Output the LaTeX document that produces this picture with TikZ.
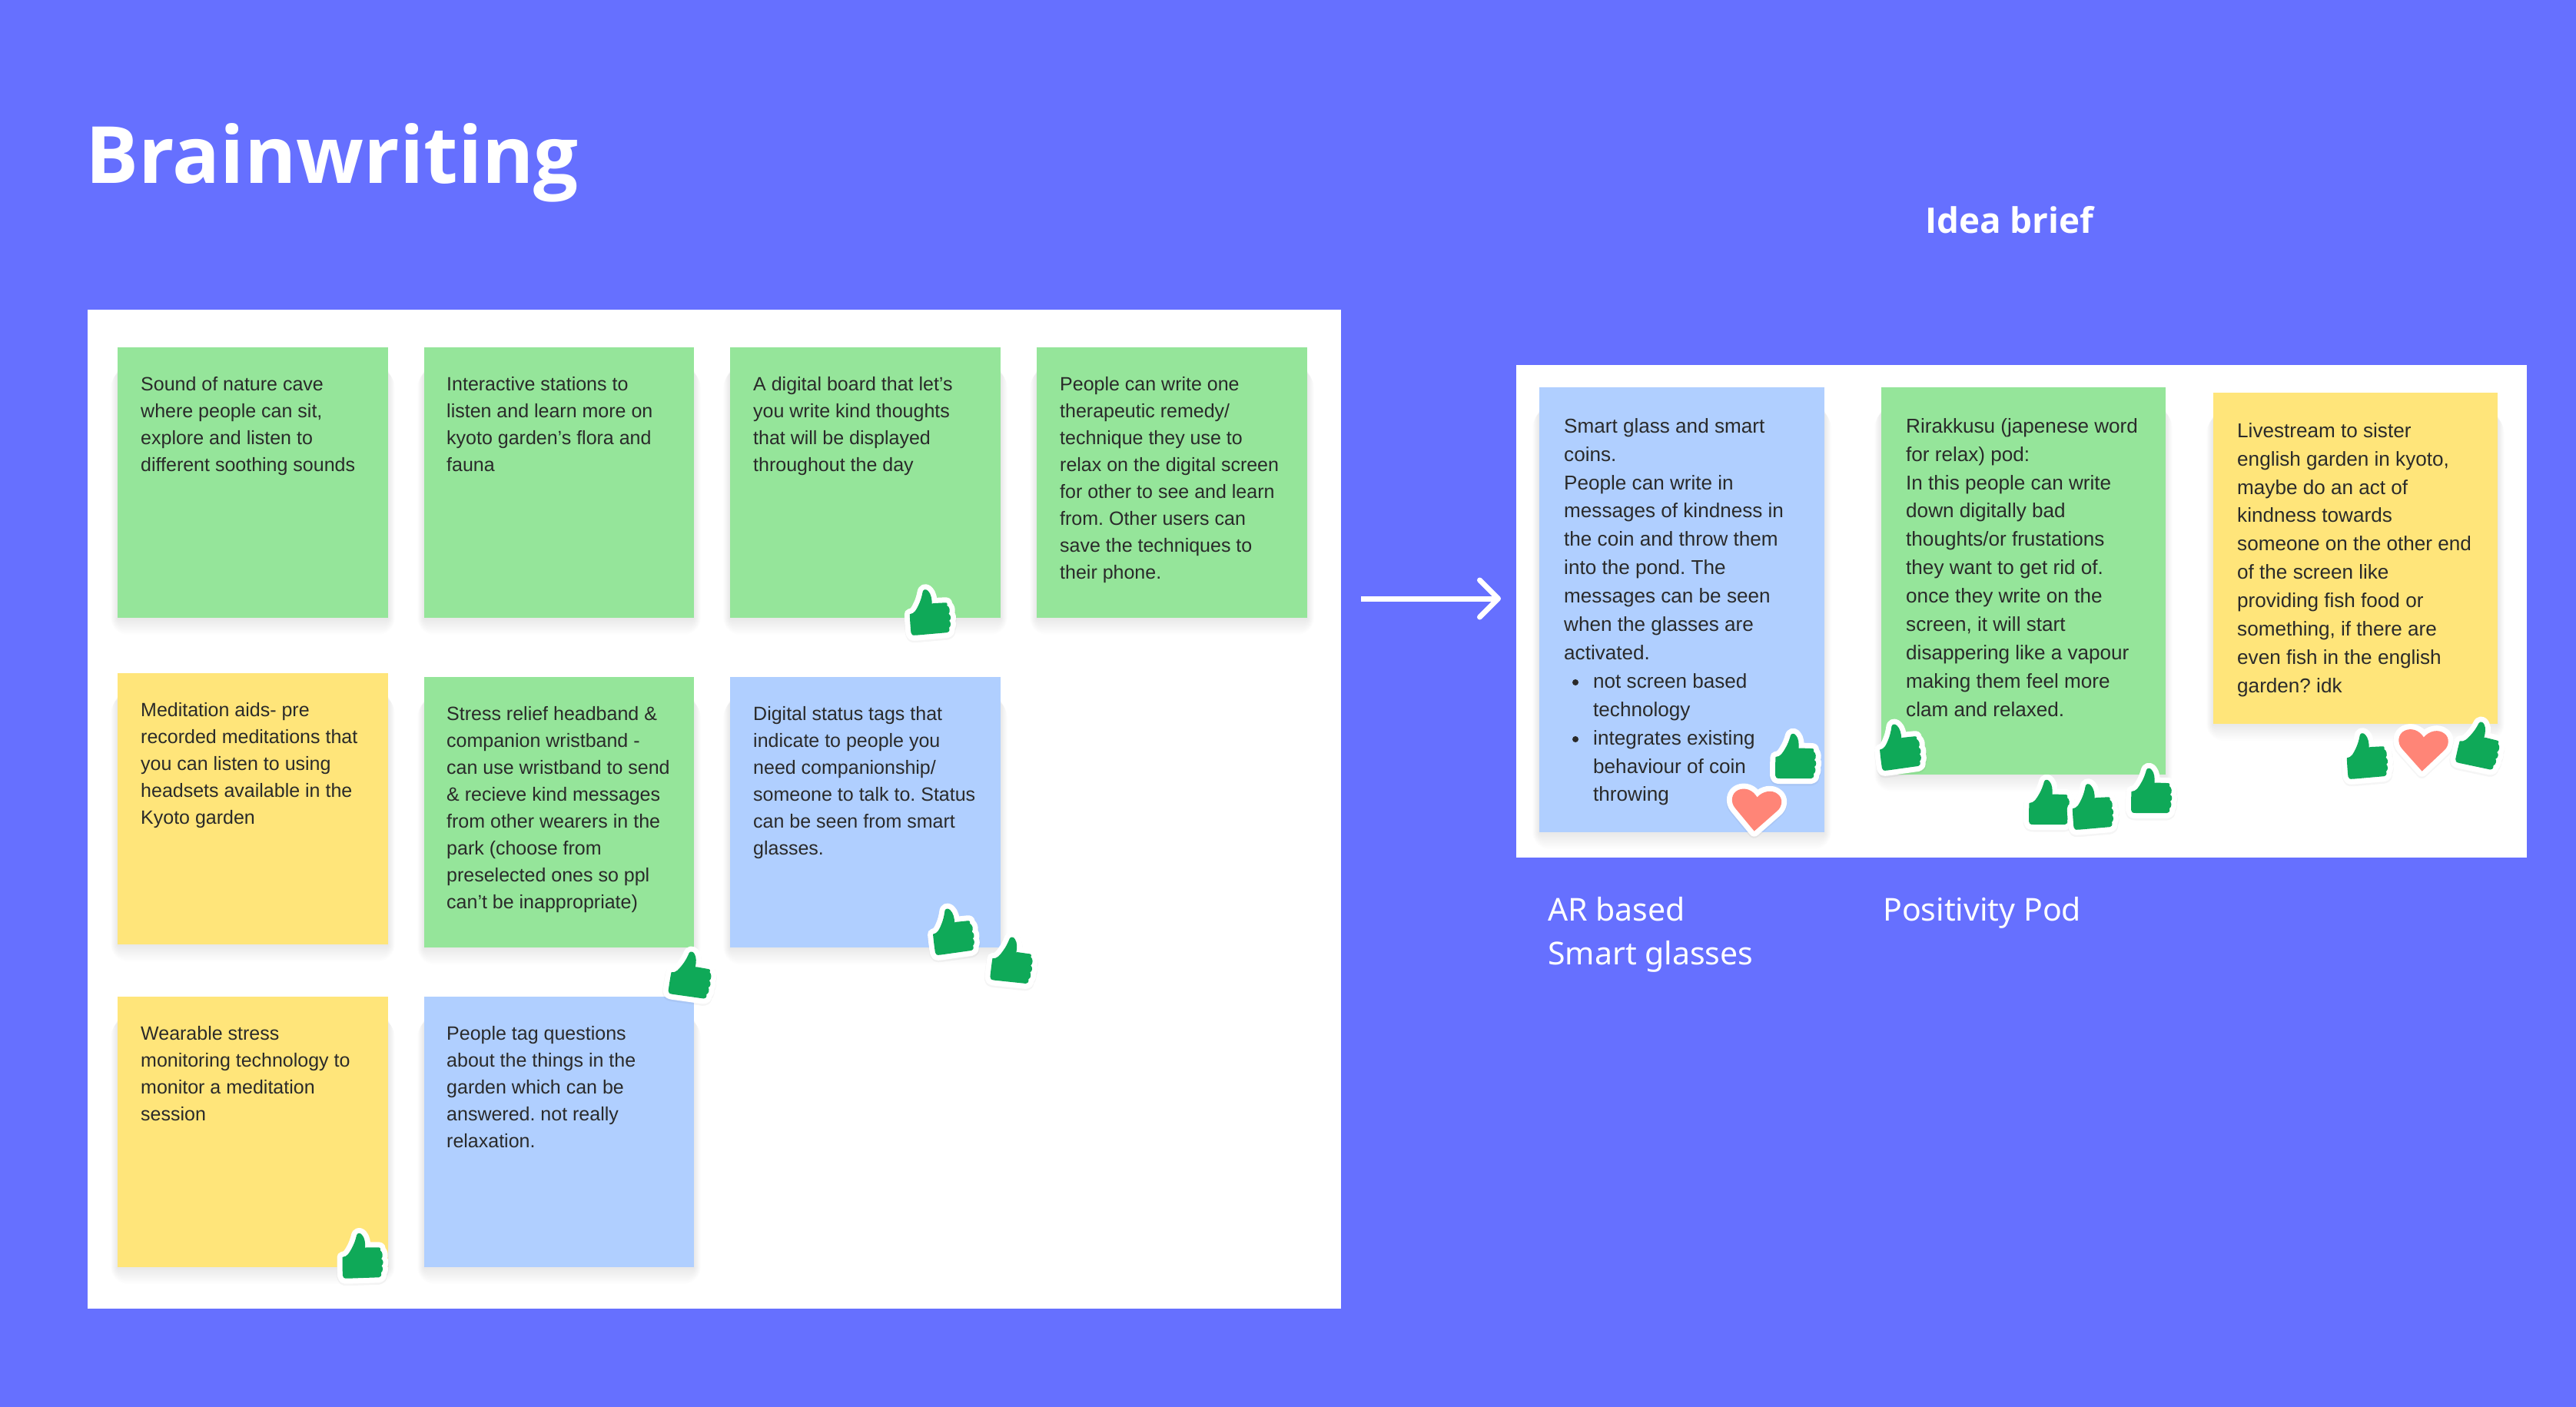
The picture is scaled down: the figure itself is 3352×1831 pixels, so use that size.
\documentclass[tikz,border=0pt]{standalone}
\usepackage{fontspec}
\setmainfont{Liberation Sans}
\newfontfamily\headfont{Noto Sans}
\newfontfamily\headbold{Open Sans}
\usetikzlibrary{arrows.meta}
\definecolor{bgblue}{HTML}{6670FF}
\definecolor{stgreen}{HTML}{95E59A}
\definecolor{styellow}{HTML}{FFE57A}
\definecolor{stblue}{HTML}{B0CFFF}
\definecolor{inkdark}{HTML}{2A2A2A}
\definecolor{thumbgreen}{HTML}{0FA958}
\definecolor{heartred}{HTML}{FF8577}
\frenchspacing
\newcommand\smallnotefont{\fontsize{25}{35}\selectfont}
\newcommand\bignotefont{\fontsize{26.1}{36.9}\selectfont}
\tikzset{
  panel/.style={fill=white,draw=none},
  notetext/.style={anchor=north west,inner sep=0pt,align=left,text=inkdark},
  heading/.style={anchor=base west,inner sep=0pt,text=white},
  caption/.style={anchor=base west,inner sep=0pt,text=white,align=left,font=\headfont\fontsize{41}{57}\selectfont},
  notebox/.style={anchor=north west,inner sep=0pt,draw=none},
  flow/.style={draw=white,line width=7pt,-{Straight Barb[length=24pt,width=48pt,line width=7pt,round]}}
}
% \stickynote{name}{x1}{y1}{x2}{y2}{colour}
\newcommand\stickynote[6]{%
  \foreach \r in {2,4,...,22}{\fill[black,opacity=.009,rounded corners=\r pt] (#2-.4*\r,#3+30) rectangle (#4+.4*\r,#5+\r);}
  \pgfmathsetmacro\nw{#4-#2}\pgfmathsetmacro\nh{#5-#3}
  \node[notebox,fill=#6,minimum width=\nw pt,minimum height=\nh pt] (#1) at (#2,#3) {};
}
\newcommand\thumbshape{(-26.5,2) .. controls (-27,12) and (-27,20) .. (-27,26) .. controls (-27,29) and (-25,30) .. (-21,30) -- (20,30) .. controls (22,30) and (24,28) .. (23,24) .. controls (26,22) and (26,17) .. (24,15) .. controls (27,13) and (27,8) .. (24,6) .. controls (27,3) and (26,-3) .. (23,-5) .. controls (24,-9) and (22,-9) .. (19,-9) -- (5,-9.5) -- (3.5,-9) .. controls (4,-15) and (3.5,-22) .. (0,-26) .. controls (-2,-29) and (-6,-29) .. (-7,-26) .. controls (-9,-19) and (-11,-14) .. (-14,-9) .. controls (-17,-4) and (-20,2) .. (-26.5,2) -- cycle}
\newcommand\thumbup[3]{%
  \begin{scope}[shift={(#1,#2)},rotate=#3]
    \fill[black,opacity=.04,line width=15pt,line join=round,draw=black,yshift=-2pt] \thumbshape;
    \draw[white,fill=white,line width=14pt,line join=round] \thumbshape;
    \fill[thumbgreen] \thumbshape;
  \end{scope}}
\newcommand\heartshape{(0,29) -- (-29,-1) .. controls (-37,-9) and (-36,-22) .. (-27,-27) .. controls (-18,-32) and (-7,-29) .. (0,-19) .. controls (7,-29) and (20,-32) .. (28,-26) .. controls (36,-21) and (36,-9) .. (29,-2) -- cycle}
\newcommand\heartmark[3]{%
  \begin{scope}[shift={(#1,#2)},rotate=#3,xscale=.94,yscale=.92]
    \fill[black,opacity=.04,line width=15pt,line join=round,draw=black,yshift=-2pt] \heartshape;
    \draw[white,fill=white,line width=14pt,line join=round] \heartshape;
    \fill[heartred] \heartshape;
  \end{scope}}
\begin{document}
\begin{tikzpicture}[x=1pt,y=-1pt]
\fill[bgblue] (0,0) rectangle (3352,1831);
\useasboundingbox (0,0) rectangle (3352,1831);
\node[heading,font=\headbold\bfseries\fontsize{102.7}{120}\selectfont] (title) at (111,238) {Brainwriting};
\node[heading,font=\headbold\bfseries\fontsize{45.8}{56}\selectfont] (brief) at (2505,303) {Idea brief};
\fill[panel] (114,403) rectangle (1745,1703);
\fill[panel] (1973,475) rectangle (3288,1116);

\stickynote{n1}{153}{452}{505}{804}{stgreen}
\stickynote{n2}{552}{452}{903}{804}{stgreen}
\stickynote{n3}{950}{452}{1302}{804}{stgreen}
\stickynote{n4}{1349}{452}{1701}{804}{stgreen}
\stickynote{n5}{153}{876}{505}{1229}{styellow}
\stickynote{n6}{552}{881}{903}{1233}{stgreen}
\stickynote{n7}{950}{881}{1302}{1233}{stblue}
\stickynote{n8}{153}{1297}{505}{1649}{styellow}
\stickynote{n9}{552}{1297}{903}{1649}{stblue}
\stickynote{p1}{2003}{504}{2374}{1083}{stblue}
\stickynote{p2}{2448}{504}{2818}{1008}{stgreen}
\stickynote{p3}{2880}{511}{3250}{942}{styellow}

\node[notetext,font=\smallnotefont] (t1) at (183,482.5) {\rule{0pt}{26pt}Sound of nature cave\\where people can sit,\\explore and listen to\\different soothing sounds};
\node[notetext,font=\smallnotefont] (t2) at (581,482.5) {\rule{0pt}{26pt}Interactive stations to\\listen and learn more on\\kyoto garden’s flora and\\fauna};
\node[notetext,font=\smallnotefont] (t3) at (980,482.5) {\rule{0pt}{26pt}A digital board that let’s\\you write kind thoughts\\that will be displayed\\throughout the day};
\node[notetext,font=\smallnotefont] (t4) at (1379,482.5) {\rule{0pt}{26pt}People can write one\\therapeutic remedy/\\technique they use to\\relax on the digital screen\\for other to see and learn\\from. Other users can\\save the techniques to\\their phone.};
\node[notetext,font=\smallnotefont] (t5) at (183,906) {\rule{0pt}{26pt}Meditation aids- pre\\recorded meditations that\\you can listen to using\\headsets available in the\\Kyoto garden};
\node[notetext,font=\smallnotefont] (t6) at (581,911) {\rule{0pt}{26pt}Stress relief headband \&\\companion wristband -\\can use wristband to send\\\& recieve kind messages\\from other wearers in the\\park (choose from\\preselected ones so ppl\\can’t be inappropriate)};
\node[notetext,font=\smallnotefont] (t7) at (980,911) {\rule{0pt}{26pt}Digital status tags that\\indicate to people you\\need companionship/\\someone to talk to. Status\\can be seen from smart\\glasses.};
\node[notetext,font=\smallnotefont] (t8) at (183,1327) {\rule{0pt}{26pt}Wearable stress\\monitoring technology to\\monitor a meditation\\session};
\node[notetext,font=\smallnotefont] (t9) at (581,1327) {\rule{0pt}{26pt}People tag questions\\about the things in the\\garden which can be\\answered. not really\\relaxation.};
\node[notetext,font=\bignotefont] (t10) at (2035,537) {\rule{0pt}{26pt}Smart glass and smart\\coins.\\People can write in\\messages of kindness in\\the coin and throw them\\into the pond. The\\messages can be seen\\when the glasses are\\activated.\\\hspace{38pt}not screen based\\\hspace{38pt}technology\\\hspace{38pt}integrates existing\\\hspace{38pt}behaviour of coin\\\hspace{38pt}throwing};
\coordinate (bullet1) at (2050,888);
\coordinate (bullet2) at (2050,962);
\fill[inkdark] (bullet1) circle (4);
\fill[inkdark] (bullet2) circle (4);
\node[notetext,font=\bignotefont] (t11) at (2480,537) {\rule{0pt}{26pt}Rirakkusu (japenese word\\for relax) pod:\\In this people can write\\down digitally bad\\thoughts/or frustations\\they want to get rid of.\\once they write on the\\screen, it will start\\disappering like a vapour\\making them feel more\\clam and relaxed.};
\node[notetext,font=\bignotefont] (t12) at (2911,543) {\rule{0pt}{26pt}Livestream to sister\\english garden in kyoto,\\maybe do an act of\\kindness towards\\someone on the other end\\of the screen like\\providing fish food or\\something, if there are\\even fish in the english\\garden? idk};

\node[caption] (c1) at (2014,1198) {AR based};
\node[caption] (c2) at (2014,1255) {Smart glasses};
\node[caption] (c3) at (2450,1198) {Positivity Pod};

\coordinate (arrowstart) at (1771,779);
\coordinate (arrowend) at (1953,779);
\draw[flow] (arrowstart) -- (arrowend);

\thumbup{1210}{795}{5}
\thumbup{1240}{1210}{8}
\thumbup{1318}{1248}{-6}
\thumbup{900}{1267}{-8}
\thumbup{472}{1633}{2}
\thumbup{2337}{983}{0}
\heartmark{2285}{1055}{-5}
\thumbup{2472}{970}{8}
\thumbup{2667}{1043}{0}
\thumbup{2723}{1048}{5}
\thumbup{2800}{1028}{0}
\thumbup{3080}{982}{5}
\heartmark{3153}{977}{-3}
\thumbup{3227}{968}{-12}
\end{tikzpicture}
\end{document}
